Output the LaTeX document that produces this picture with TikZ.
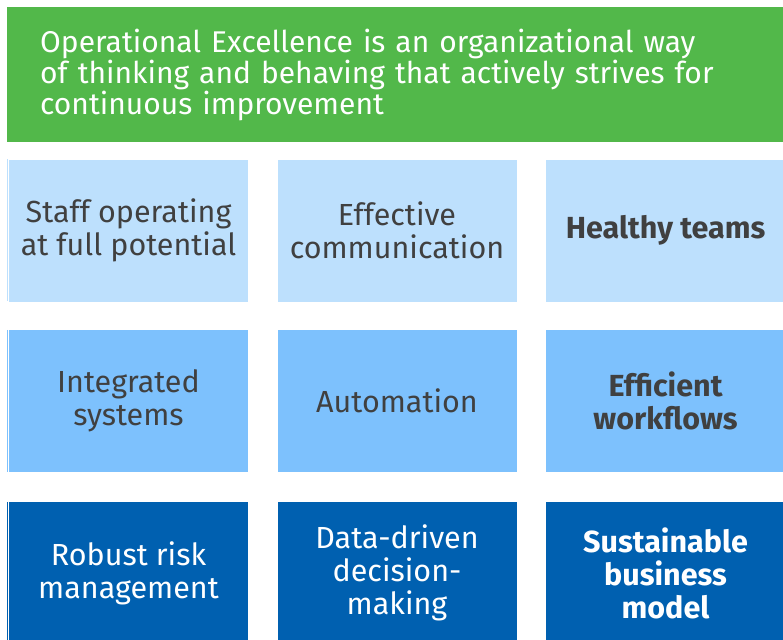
\documentclass[tikz,border=0pt]{standalone}
\usepackage{fontspec}
\setmainfont{Fira Sans}
\usetikzlibrary{positioning}
\definecolor{excgreen}{HTML}{52B84A}
\definecolor{paleblue}{HTML}{BDE0FD}
\definecolor{midblue}{HTML}{7DC1FD}
\definecolor{deepblue}{HTML}{0060B0}
\definecolor{inkgray}{HTML}{404040}
\tikzset{
	tile/.style={minimum width=239pt, minimum height=142pt, inner sep=0pt, align=center,
		font=\fontsize{30.5}{33}\selectfont, text=inkgray},
	rowone/.style={tile, fill=paleblue},
	rowtwo/.style={tile, fill=midblue},
	rowthree/.style={tile, fill=deepblue, text=white},
	keytile/.style={font=\fontsize{30.5}{33}\selectfont\bfseries},
}
\begin{document}
\begin{tikzpicture}[x=1pt, y=-1pt]
	\clip (0,0) rectangle (783,639);
	\useasboundingbox (0,0) rectangle (783,639);
	\path
	(128.5,230.5) coordinate (c1r1)
	(397,230.5) coordinate (c2r1)
	(665.5,230.5) coordinate (c3r1)
	(128.5,401) coordinate (c1r2)
	(397,401) coordinate (c2r2)
	(665.5,401) coordinate (c3r2)
	(128.5,573) coordinate (c1r3)
	(397,573) coordinate (c2r3)
	(665.5,573) coordinate (c3r3)
	;
	% headline
	\node [fill=excgreen, anchor=north west, minimum width=800pt, minimum height=135pt, inner sep=0pt] (head) at (7,7) {};
	\node [below right=22pt and 33pt of head.north west, anchor=north west, inner sep=0pt, text width=740pt, align=left,
		text=white, font=\fontsize{30}{31}\selectfont] (headline)
		{Operational Excellence is an organizational way\\of thinking and behaving that actively strives for\\continuous improvement};
	% tiles
	\node [rowone] (staff) at (c1r1) {Staff operating\\at full potential};
	\node [rowone] (comm) at (c2r1) {Effective\\communication};
	\node [rowone, keytile] (teams) at (c3r1) {Healthy teams};
	\node [rowtwo] (systems) at (c1r2) {Integrated\\systems};
	\node [rowtwo] (auto) at (c2r2) {Automation};
	\node [rowtwo, keytile] (flows) at (c3r2) {Efficient\\workflows};
	\node [rowthree] (risk) at (c1r3) {Robust risk\\management};
	\node [rowthree] (data) at (c2r3) {Data-driven\\decision-\\making};
	\node [rowthree, keytile] (model) at (c3r3) {Sustainable\\business\\model};
	% thin left edges
	\foreach \t/\c in {staff/paleblue, systems/midblue, risk/deepblue}{
		\draw [\c, line width=1pt] (\t.north west)++(-1.5,0) -- ++(0,142);
	}
\end{tikzpicture}
\end{document}
